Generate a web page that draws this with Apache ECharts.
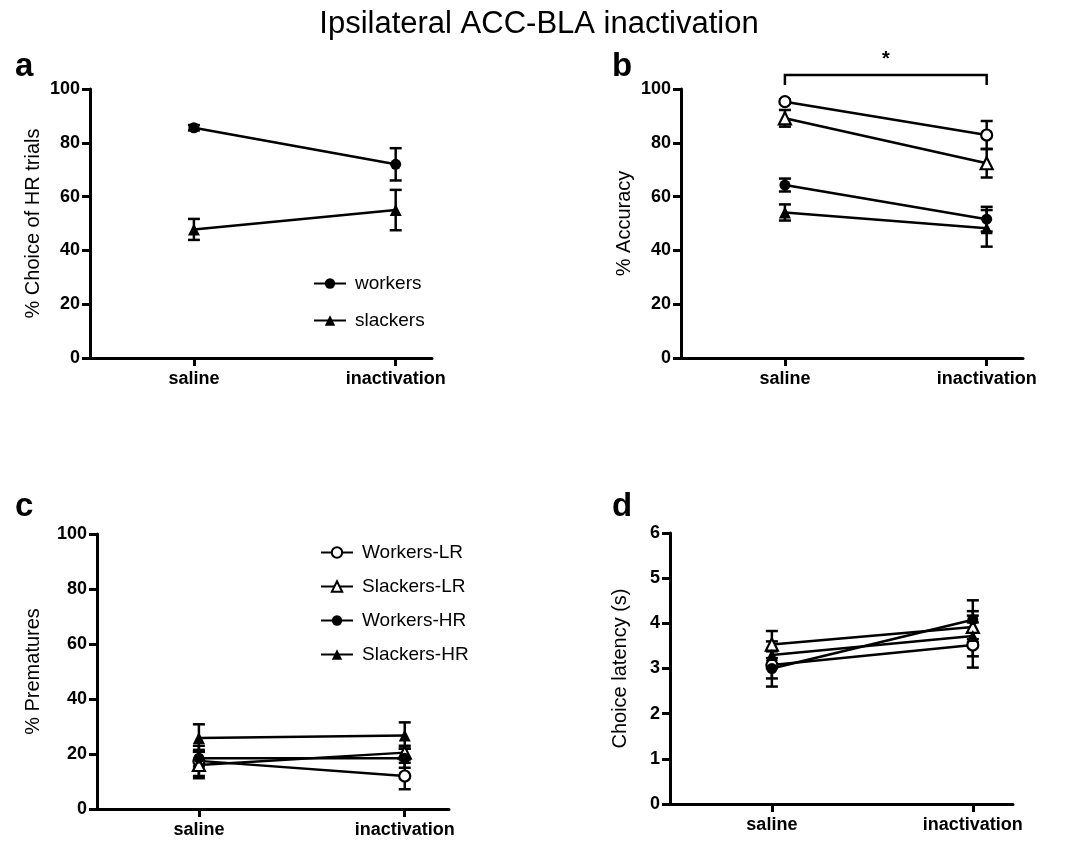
<!DOCTYPE html>
<html>
<head>
<meta charset="utf-8">
<script src="https://cdn.jsdelivr.net/npm/echarts@6/dist/echarts.min.js"></script>
<style>
  html, body { margin: 0; padding: 0; background: #fff; }
  #chart { width: 1078px; height: 845px; }
</style>
</head>
<body>
<div id="chart"></div>
<script>
// Conditions on the x axis
const conditions = ['saline', 'inactivation'];

// a: % choice of HR trials (mean, SEM)
const choiceWorkers = [85.6, 72.0];
const choiceWorkersSem = [1.0, 6.0];
const choiceSlackers = [47.8, 55.0];
const choiceSlackersSem = [3.9, 7.5];

// b: % accuracy
const accWorkersLR = [95.3, 82.9];
const accWorkersLRSem = [0.8, 5.2];
const accSlackersLR = [89.1, 72.4];
const accSlackersLRSem = [3.1, 5.3];
const accWorkersHR = [64.3, 51.6];
const accWorkersHRSem = [2.4, 4.6];
const accSlackersHR = [54.1, 48.2];
const accSlackersHRSem = [3.0, 6.8];

// c: % premature responses
const premWorkersLR = [17.5, 12.0];
const premWorkersLRSem = [5.5, 4.8];
const premSlackersLR = [16.0, 20.5];
const premSlackersLRSem = [4.8, 2.5];
const premWorkersHR = [18.5, 18.5];
const premWorkersHRSem = [3.0, 3.5];
const premSlackersHR = [25.8, 26.7];
const premSlackersHRSem = [5.0, 4.8];

// d: choice latency (s)
const latWorkersLR = [3.08, 3.52];
const latWorkersLRSem = [0.3, 0.5];
const latSlackersLR = [3.53, 3.92];
const latSlackersLRSem = [0.3, 0.35];
const latWorkersHR = [3.0, 4.08];
const latWorkersHRSem = [0.4, 0.43];
const latSlackersHR = [3.3, 3.72];
const latSlackersHRSem = [0.3, 0.45];

// Significance bracket in b: from condition 0 to 1, bar height and drop height
const bracketB = [0, 1, 105.2, 101.5];

const groupNames = ['Workers-LR', 'Slackers-LR', 'Workers-HR', 'Slackers-HR'];

const FONT = 'Liberation Sans, Arial, Helvetica, sans-serif';

const markers = {
  workersOpen:  { shape: 'circle',   size: 11, open: true },
  slackersOpen: { shape: 'triangle', size: 12, open: true },
  workersFill:  { shape: 'circle',   size: 11, open: false },
  slackersFill: { shape: 'triangle', size: 12, open: false }
};

function errorBarItem(params, api) {
  const x = api.value(0), y = api.value(1), e = api.value(2);
  const top = api.coord([x, y + e]);
  const bot = api.coord([x, y - e]);
  const hw = 6;
  const style = { stroke: '#000', lineWidth: 2.5, fill: null };
  return {
    type: 'group',
    children: [
      { type: 'line', shape: { x1: top[0], y1: top[1], x2: bot[0], y2: bot[1] }, style },
      { type: 'line', shape: { x1: top[0] - hw, y1: top[1], x2: top[0] + hw, y2: top[1] }, style },
      { type: 'line', shape: { x1: bot[0] - hw, y1: bot[1], x2: bot[0] + hw, y2: bot[1] }, style }
    ]
  };
}

function bracketItem(params, api) {
  const x0 = api.value(0), x1 = api.value(1), yb = api.value(2), yd = api.value(3);
  const p0 = api.coord([x0, yd]), p1 = api.coord([x0, yb]);
  const p2 = api.coord([x1, yb]), p3 = api.coord([x1, yd]);
  return {
    type: 'group',
    children: [
      { type: 'polyline', shape: { points: [p0, p1, p2, p3] },
        style: { stroke: '#000', lineWidth: 2.5, fill: null } },
      { type: 'text', x: (p1[0] + p2[0]) / 2, y: p1[1] - 6,
        style: { text: '*', font: 'bold 20px ' + FONT, fill: '#000',
                 align: 'center', verticalAlign: 'bottom' } }
    ]
  };
}

const series = [];
function addGroup(gi, name, vals, sems, m) {
  series.push({
    type: 'line', name, xAxisIndex: gi, yAxisIndex: gi,
    data: vals.map((v, i) => [i, v]),
    symbol: m.shape, symbolSize: m.size, showAllSymbol: true,
    lineStyle: { color: '#000', width: 2.5 },
    itemStyle: { color: m.open ? '#fff' : '#000', borderColor: '#000', borderWidth: m.open ? 2.2 : 0 },
    emphasis: { disabled: true },
    z: 4
  });
  series.push({
    type: 'custom', xAxisIndex: gi, yAxisIndex: gi,
    data: vals.map((v, i) => [i, v, sems[i]]),
    renderItem: errorBarItem, silent: true, z: 3
  });
}

addGroup(0, 'workers', choiceWorkers, choiceWorkersSem, markers.workersFill);
addGroup(0, 'slackers', choiceSlackers, choiceSlackersSem, markers.slackersFill);

addGroup(1, groupNames[0], accWorkersLR, accWorkersLRSem, markers.workersOpen);
addGroup(1, groupNames[1], accSlackersLR, accSlackersLRSem, markers.slackersOpen);
addGroup(1, groupNames[2], accWorkersHR, accWorkersHRSem, markers.workersFill);
addGroup(1, groupNames[3], accSlackersHR, accSlackersHRSem, markers.slackersFill);

addGroup(2, groupNames[0], premWorkersLR, premWorkersLRSem, markers.workersOpen);
addGroup(2, groupNames[1], premSlackersLR, premSlackersLRSem, markers.slackersOpen);
addGroup(2, groupNames[2], premWorkersHR, premWorkersHRSem, markers.workersFill);
addGroup(2, groupNames[3], premSlackersHR, premSlackersHRSem, markers.slackersFill);

addGroup(3, groupNames[0], latWorkersLR, latWorkersLRSem, markers.workersOpen);
addGroup(3, groupNames[1], latSlackersLR, latSlackersLRSem, markers.slackersOpen);
addGroup(3, groupNames[2], latWorkersHR, latWorkersHRSem, markers.workersFill);
addGroup(3, groupNames[3], latSlackersHR, latSlackersHRSem, markers.slackersFill);

series.push({
  type: 'custom', xAxisIndex: 1, yAxisIndex: 1, clip: false,
  data: [bracketB], renderItem: bracketItem, silent: true, z: 5
});

const grids = [
  { left: 90,  top: 89,  width: 342, height: 269 },
  { left: 681, top: 89,  width: 342, height: 269 },
  { left: 97,  top: 534, width: 352, height: 275 },
  { left: 670, top: 533, width: 343, height: 271 }
];
const xRanges = [[-0.515, 1.18], [-0.515, 1.18], [-0.495, 1.215], [-0.507, 1.2]];

const axisLineStyle = { show: true, onZero: false, lineStyle: { color: '#000', width: 3 } };
const tickStyle = { show: true, length: 8, lineStyle: { color: '#000', width: 3 } };

const xAxes = grids.map((g, i) => ({
  type: 'value', gridIndex: i, min: xRanges[i][0], max: xRanges[i][1],
  axisLine: axisLineStyle,
  axisTick: Object.assign({ customValues: [0, 1] }, tickStyle),
  axisLabel: {
    customValues: [0, 1], formatter: v => conditions[Math.round(v)],
    color: '#000', fontFamily: FONT, fontWeight: 'bold', fontSize: 18, margin: 12
  },
  splitLine: { show: false }
}));

const yCfg = [
  { name: '% Choice of HR trials', max: 100, interval: 20, gap: 47 },
  { name: '% Accuracy', max: 100, interval: 20, gap: 47 },
  { name: '% Prematures', max: 100, interval: 20, gap: 54 },
  { name: 'Choice latency (s)', max: 6, interval: 1, gap: 40 }
];
const yAxes = yCfg.map((c, i) => ({
  type: 'value', gridIndex: i, min: 0, max: c.max, interval: c.interval,
  name: c.name, nameLocation: 'middle', nameGap: c.gap,
  nameTextStyle: { color: '#000', fontFamily: FONT, fontSize: 20 },
  axisLine: axisLineStyle, axisTick: tickStyle,
  axisLabel: { color: '#000', fontFamily: FONT, fontWeight: 'bold', fontSize: 18, margin: 10 },
  splitLine: { show: false }
}));

const letterStyle = { color: '#000', fontFamily: FONT, fontWeight: 'bold', fontSize: 33 };

const option = {
  backgroundColor: '#fff',
  animation: false,
  title: [
    { text: 'Ipsilateral ACC-BLA inactivation', left: 'center', top: 4,
      textStyle: { color: '#000', fontFamily: FONT, fontWeight: 'normal', fontSize: 31 } },
    { text: 'a', left: 10, top: 45, textStyle: letterStyle },
    { text: 'b', left: 607, top: 45, textStyle: letterStyle },
    { text: 'c', left: 10, top: 485, textStyle: letterStyle },
    { text: 'd', left: 607, top: 485, textStyle: letterStyle }
  ],
  legend: [
    { data: ['workers', 'slackers'], orient: 'vertical', left: 308, top: 269,
      itemWidth: 32, itemHeight: 13, itemGap: 18, selectedMode: false,
      textStyle: { color: '#000', fontFamily: FONT, fontSize: 19, padding: [0, 0, 0, 4] } },
    { data: groupNames, orient: 'vertical', left: 315, top: 538,
      itemWidth: 32, itemHeight: 13, itemGap: 15, selectedMode: false,
      textStyle: { color: '#000', fontFamily: FONT, fontSize: 19, padding: [0, 0, 0, 4] } }
  ],
  grid: grids,
  xAxis: xAxes,
  yAxis: yAxes,
  series
};

const chart = echarts.init(document.getElementById('chart'), null, { renderer: 'canvas' });
chart.setOption(option);
</script>
</body>
</html>
